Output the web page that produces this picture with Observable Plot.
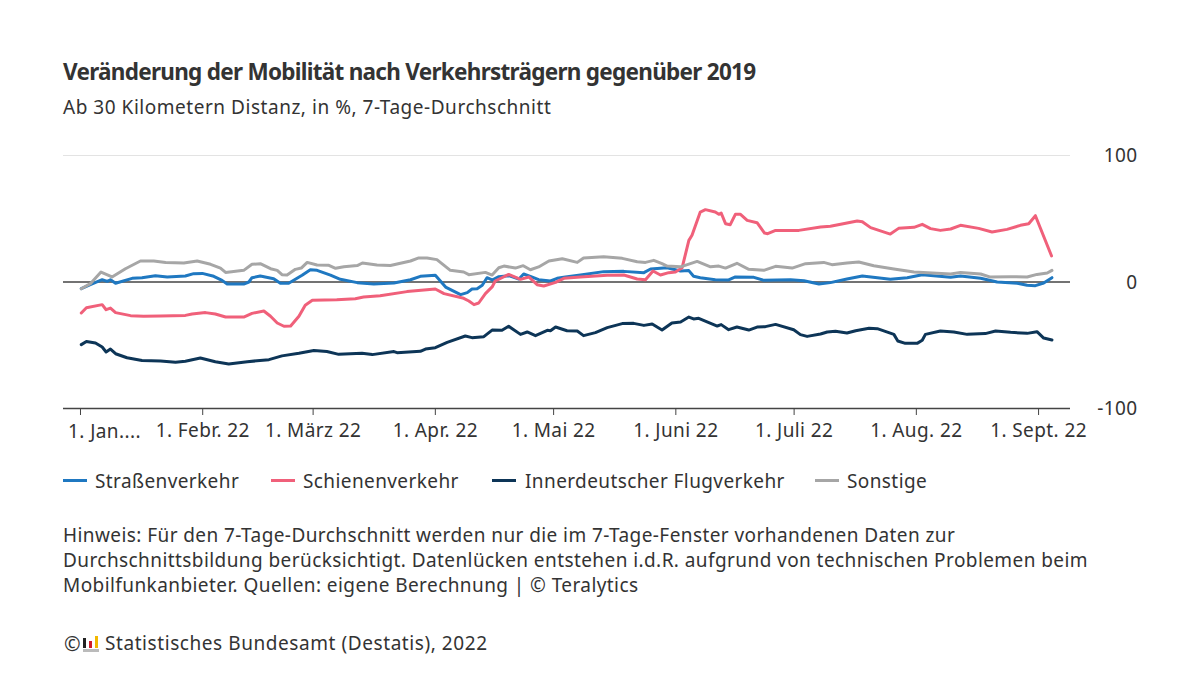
<!DOCTYPE html>
<html lang="de"><head><meta charset="utf-8">
<script src="https://cdn.jsdelivr.net/npm/d3@7"></script>
<script src="https://cdn.jsdelivr.net/npm/@observablehq/plot@0.6"></script>
<style>
html,body{margin:0;padding:0;background:#fff;width:1200px;height:675px;overflow:hidden;font-family:"Noto Sans",sans-serif;color:#333}
.t{position:absolute;white-space:nowrap}
#title{left:63px;top:56px;font-size:22.5px;font-weight:700;line-height:32px;color:#333;letter-spacing:-0.72px}
#sub{left:63px;top:94px;font-size:19px;line-height:26px;letter-spacing:.53px}
#chart{position:absolute;left:0;top:140px}
.sw{position:absolute;top:479px;width:24px;height:3px}
.lg{top:468px;font-size:19px;line-height:26px;letter-spacing:.4px}
#note{left:63px;top:523px;font-size:19px;line-height:25px;letter-spacing:.42px}
#foot{left:105px;top:630px;font-size:19px;line-height:26px;letter-spacing:.57px}
#copy{left:64px;top:631px;font-size:20px;line-height:26px}
#logo{position:absolute;left:83px;top:636px;width:16px;height:16px}
#logo i{position:absolute;bottom:4px;width:3px}
#logo b{position:absolute;left:0;bottom:0;width:16px;height:3px;background:#bbb}
</style></head><body>
<div class="t" id="title">Veränderung der Mobilität nach Verkehrsträgern gegenüber 2019</div>
<div class="t" id="sub">Ab 30 Kilometern Distanz, in %, 7-Tage-Durchschnitt</div>
<div id="chart"></div>
<div id="legend"></div>
<div class="t" id="note">Hinweis: Für den 7-Tage-Durchschnitt werden nur die im 7-Tage-Fenster vorhandenen Daten zur<br>Durchschnittsbildung berücksichtigt. Datenlücken entstehen i.d.R. aufgrund von technischen Problemen beim<br>Mobilfunkanbieter. Quellen: eigene Berechnung | © Teralytics</div>
<div class="t" id="copy">©</div>
<div id="logo"><i style="left:0;height:10px;background:#222"></i><i style="left:6px;height:7px;background:#d01c2a"></i><i style="left:12px;height:12px;background:#f2b800"></i><b></b></div>
<div class="t" id="foot">Statistisches Bundesamt (Destatis), 2022</div>
<script>
const seriesNames = ["Straßenverkehr","Schienenverkehr","Innerdeutscher Flugverkehr","Sonstige"];
const seriesColors = ["#1f78c1","#f0607a","#0d3557","#a6a6a6"];
const legendSwatchX = [63,271,492,815];
const legendTextX = [95,303,525,847];

const monthDays = [0,31,59,90,120,151,181,212,243];
const monthLabels = ["1. Jan....","1. Febr. 22","1. März 22","1. Apr. 22","1. Mai 22","1. Juni 22","1. Juli 22","1. Aug. 22","1. Sept. 22"];
const yTicks = [-100,0,100];

const roadDays = [0.2,2.5,5.5,6.8,7.6,8.9,13.1,15.6,19,22,26.6,28.7,30.9,33.8,35.9,37.2,41.4,42.7,43.5,45.6,49,50.7,52.8,56.2,58.3,60,63.4,65.9,70.2,74.4,79.5,83.7,86.2,90,92.6,96.4,98.1,99.3,100.6,101.9,103.1,104.4,106.1,108.6,111.2,112.4,114.1,116.2,119.2,120.9,123,126.8,132.7,137.8,142.9,144.6,148.8,152.2,154.3,155.5,157.2,161,164.4,166.1,170.8,173.3,180.1,183.5,187.3,190.2,194.4,198.3,205.4,209.7,213.5,220.7,223.2,228.3,232.5,237.6,240.1,242.2,244.3,246.4];
const roadValues = [-5.3,-2.1,1.8,0.5,1.8,-1,2.9,3.4,5,4,4.7,6.6,6.8,4.5,1.3,-1.6,-1.6,0,3.4,4.7,2.6,-1,-1,5.3,9.7,9.2,5.5,2.1,-0.5,-1.6,-0.8,1.8,4.5,5.3,-4,-10,-8.4,-5.5,-5.3,-2.6,3.4,1.6,4.2,5,2.4,6.3,4.5,1.8,0.8,2.9,4,5.5,8.2,8.4,7.4,10.3,11.3,8.7,9,4.5,3.4,1.8,1.6,4,3.7,1.3,1.8,1,-1.6,-0.5,2.4,4.7,2.1,3.4,5.8,3.7,4.7,2.9,0,-1,-2.6,-2.9,-0.8,3.4];

const railDays = [0.2,1.5,5.5,6.5,7.6,8.9,12.7,16,20.3,26.6,28.3,31.7,34.2,36.8,41.4,43.5,46.5,48.2,49.9,51.6,53.3,55.4,57,58.8,65,69.7,71.8,76,82.8,90,92.2,97.2,98.5,99.8,101,102.7,104.4,105.2,108.6,111.6,113.7,115.8,117.5,120.5,122.6,126.8,133.6,137.8,141.2,143.3,145.2,147.1,149.2,150.9,152.6,154.3,155.1,157.2,158.5,161,161.9,162.5,163.6,164.8,166.1,167.4,169.1,171.6,173.5,174.3,176.3,182.2,187.7,190.2,192.8,197,198.3,200.4,205.4,207.5,211.4,213.5,215.6,218.1,220.7,223.2,227.8,231.2,235,238.4,240.5,242.2,246.3];
const railValues = [-24.5,-20.3,-17.9,-21.9,-20.6,-24.2,-26.6,-27.1,-26.9,-26.4,-25.3,-24.2,-25.3,-27.7,-27.7,-24.8,-22.9,-27.1,-32.4,-35,-34.8,-27.1,-18.4,-14.5,-14,-13.2,-11.9,-10.8,-7.6,-5.5,-9.2,-12.9,-15,-17.9,-16.6,-9.2,-3.9,0.8,6,2.1,4,-2.1,-3.2,-0.3,2.9,4,5.3,5.5,2.4,1.8,8.7,5.5,7.4,7.9,11.3,32.9,36.9,55.3,57.2,55.3,53.5,54.5,46.1,45.3,53.5,53.5,48.7,46.9,38.7,38.2,40.8,40.8,43.5,44,45.6,48.2,47.7,43,37.9,42.4,43.2,45.6,42.2,40.8,41.9,44.8,42.4,39.5,41.6,44.8,46.1,52.4,20.6];

const airDays = [0.2,1.5,3.8,5.5,6.5,7.6,8.9,11.8,15.6,20.3,24.1,26.6,30.4,34.2,37.6,42.3,47.8,51.1,55.4,59.2,62.5,65.5,71.4,74,79.5,80.3,86.2,87.5,90,93,97.6,99.3,102.3,104.4,106.9,108.6,111.6,113.3,115.4,118.4,119.2,120.5,123.4,126,127.6,130.6,133.6,137.4,140.3,142.9,145,147.5,150,152.2,154.3,155.5,156.8,161.5,162.5,164.4,166.5,169.5,171.6,173.7,176.3,180.9,182.6,184.3,187.7,189.4,191.5,194.4,196.6,200,202.1,206.3,207.3,209.2,212.2,213.5,214.3,218.1,221.5,224.9,229.5,232.1,235.9,240.1,242.6,244.3,246.4];
const airValues = [-49.5,-47,-48.2,-51.4,-55.3,-53,-56.7,-59.9,-62,-62.5,-63.5,-62.7,-60.1,-63,-64.8,-63,-61.4,-58.4,-56.4,-54.2,-55,-57.2,-56.4,-57.4,-55,-55.9,-54.8,-53,-51.9,-47.7,-42.7,-44,-43.2,-38,-38.2,-35,-41.4,-39.5,-42.4,-38.2,-38.5,-35.6,-38.5,-38.8,-42.4,-40,-36.1,-32.9,-32.7,-34.3,-33.2,-38,-32.4,-31.6,-27.7,-29.2,-28.7,-34.8,-33.7,-37.7,-35.6,-38,-35.6,-35.3,-33.5,-37.7,-41.6,-43,-41.1,-39.5,-39,-40.3,-38.5,-36.6,-36.9,-41.4,-46.6,-48.5,-48.5,-46.1,-41.4,-38.7,-39.5,-41.4,-40.8,-38.7,-39.8,-40.6,-39.3,-44.3,-45.8];

const otherDays = [0.2,2.5,5.2,8,11.4,15.2,18.6,21.6,26.2,29.6,33,35.5,36.8,41.4,43.5,45.6,48.2,49.9,51.1,52.4,54.5,56,57.5,60,63,64.7,66.8,70.2,71.5,75.2,78.6,83.7,85.8,87.9,90.4,93.8,97.2,98.5,102.7,104.4,106.1,107.4,110.3,112.3,114.1,116.2,118.8,122.2,126,127.6,132.7,137.4,141.2,143.3,145.4,147.5,148.8,152.2,156.4,159.8,161.9,163.6,166.5,169.5,173.3,176.3,180.5,183.9,188.5,190.6,194.4,197.4,201.2,206.3,211.4,220.7,223.2,228.3,230.8,235.9,240.1,242.6,245.2,246.4];
const otherValues = [-5.3,-1.3,7.9,4,10.5,16.6,16.6,15.5,15,16.6,14,11,7.6,9.2,14,14.5,10.5,9.2,5.8,5.5,10,11,15.5,13.4,13.2,10.8,12,13,15,13.4,13,16.6,19,19,17.7,9.2,7.9,5.8,7.6,5.5,11.3,12.6,11,12.9,9.7,11.9,16.6,18.4,15.5,19,20,18.7,16,15.5,17.1,14.5,12.6,12,16.3,12,12.6,11,14.8,10,9.2,12.4,11,14.5,15.5,13.7,15,15.8,12.9,10.3,7.9,6.3,7.6,6.3,3.9,4.2,3.9,6,7.1,9.2];

const T0 = Date.UTC(2022,0,1);
const toDate = d => new Date(T0 + d*864e5);
const allDays = [roadDays,railDays,airDays,otherDays];
const allValues = [roadValues,railValues,airValues,otherValues];
const rows = seriesNames.flatMap((name,i)=>allDays[i].map((d,j)=>({name,date:toDate(d),value:allValues[i][j]})));
const monthDates = monthDays.map(toDate);
const monthRows = monthDays.map((d,i)=>({date:toDate(d),label:monthLabels[i]}));
const labelOf = new Map(monthRows.map(r=>[+r.date,r.label]));

const fontFamily = '"Noto Sans",sans-serif';
const chart = Plot.plot({
  width:1200,height:320,
  marginLeft:63,marginRight:130,marginTop:15,marginBottom:52,
  style:{fontFamily,fontSize:"19px",color:"#333",background:"transparent",overflow:"visible",letterSpacing:"0.4px"},
  x:{type:"utc",domain:[toDate(-4.31),toDate(251.1)]},
  y:{domain:[-100,100]},
  color:{domain:seriesNames,range:seriesColors},
  marks:[
    Plot.ruleY([100],{stroke:"#e3e3e3",strokeWidth:1}),
    Plot.ruleY([0],{stroke:"#444",strokeWidth:1.5}),
    Plot.ruleY([-100],{stroke:"#444",strokeWidth:1.5}),
    Plot.axisY({anchor:"right",ticks:yTicks,tickSize:0,tickPadding:67,textAnchor:"end",fill:"#333",label:null,dy:0.5,tickFormat:d=>String(d)}),
    Plot.axisX({ticks:monthDates,tickSize:7,tickPadding:8,stroke:"#444",fill:"#333",label:null,
      tickFormat:d=>(+d===T0?"":labelOf.get(+d))}),
    Plot.text(monthRows.slice(0,1),{x:"date",text:"label",frameAnchor:"bottom",dy:23,dx:24,fill:"#333",lineAnchor:"middle"}),
    Plot.line(rows,{x:"date",y:"value",z:"name",stroke:"name",strokeWidth:3,curve:"linear",strokeLinejoin:"round",strokeLinecap:"round"})
  ]
});
document.getElementById("chart").append(chart);
const lg=document.getElementById("legend");
seriesNames.forEach((n,i)=>{
  const s=document.createElement("div");s.className="sw";s.style.left=legendSwatchX[i]+"px";s.style.background=seriesColors[i];lg.append(s);
  const t=document.createElement("div");t.className="t lg";t.style.left=legendTextX[i]+"px";t.textContent=n;lg.append(t);
});
</script></body></html>
